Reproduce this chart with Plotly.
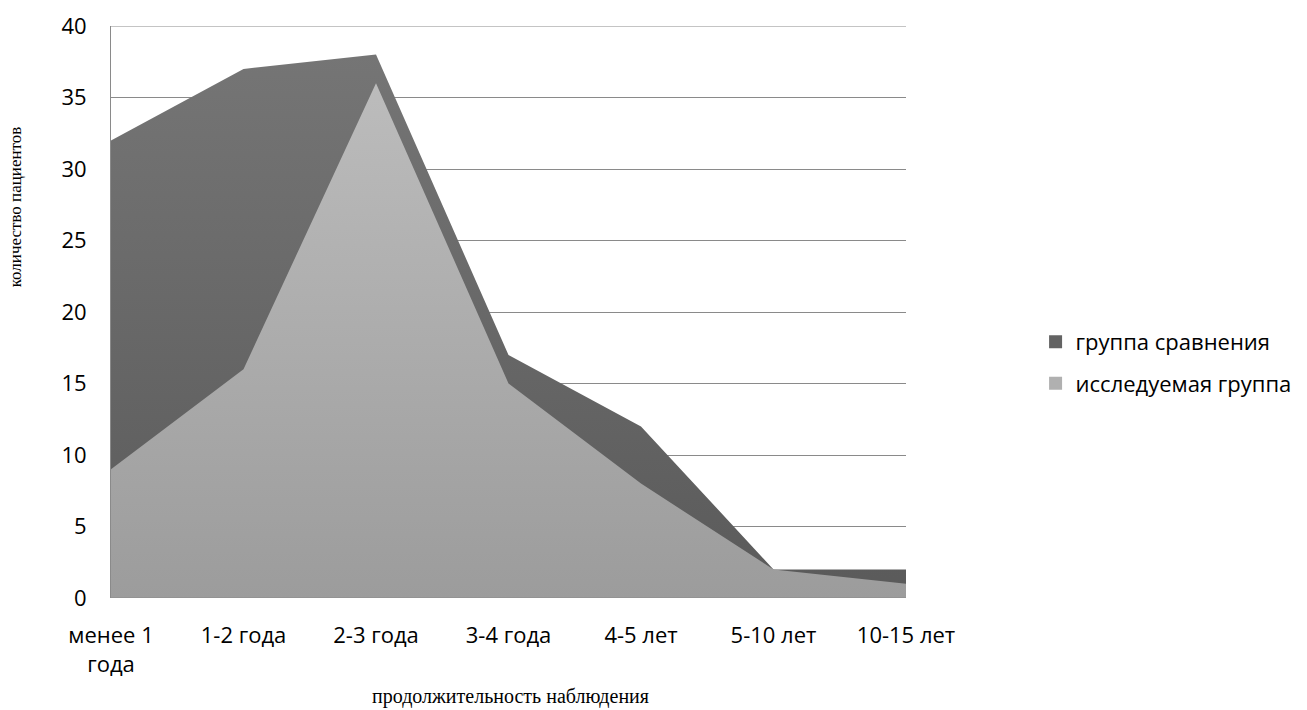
import plotly.graph_objects as go

categories = ["менее 1<br>года", "1-2 года", "2-3 года", "3-4 года", "4-5 лет", "5-10 лет", "10-15 лет"]
comparison_group = [32, 37, 38, 17, 12, 2, 2]
study_group = [9, 16, 36, 15, 8, 2, 1]
series_names = ["группа сравнения", "исследуемая группа"]
y_ticks = [0, 5, 10, 15, 20, 25, 30, 35, 40]

x_idx = list(range(len(categories)))

fig = go.Figure()

fig.add_trace(go.Scatter(
    x=x_idx, y=comparison_group, mode="lines", fill="tozeroy",
    line=dict(width=0, color="rgba(0,0,0,0)"),
    fillgradient=dict(type="vertical", start=0, stop=max(comparison_group),
                      colorscale=[[0, "#5a5a5a"], [1, "#757575"]]),
    showlegend=False, hoverinfo="skip", name=series_names[0],
))
fig.add_trace(go.Scatter(
    x=x_idx, y=study_group, mode="lines", fill="tozeroy",
    line=dict(width=0, color="rgba(0,0,0,0)"),
    fillgradient=dict(type="vertical", start=0, stop=max(study_group),
                      colorscale=[[0, "#9c9c9c"], [1, "#bcbcbc"]]),
    showlegend=False, hoverinfo="skip", name=series_names[1],
))

# legend-only entries with square symbols
for i, (name, col) in enumerate(zip(series_names, ["#636363", "#b0b0b0"])):
    fig.add_trace(go.Scatter(
        x=[None], y=[None], mode="markers", name=name, legendgroup=f"g{i}",
        marker=dict(symbol="square", size=13, color=col),
    ))

fig.update_layout(
    width=1307, height=710,
    margin=dict(l=111, r=401, t=26, b=112, autoexpand=False),
    paper_bgcolor="white", plot_bgcolor="white",
    font=dict(family="Open Sans", size=22, color="#000000"),
    xaxis=dict(
        range=[0, len(categories) - 1],
        tickmode="array", tickvals=x_idx, ticktext=categories,
        showgrid=False, zeroline=False, showline=False,
        ticks="", ticklabelstandoff=22,
        tickfont=dict(family="Open Sans", size=22, color="#000"),
    ),
    yaxis=dict(
        range=[0, 40], tickmode="array", tickvals=y_ticks,
        showgrid=True, gridcolor="#8a8a8a", gridwidth=1,
        zeroline=False, showline=True, linecolor="#8a8a8a", linewidth=1,
        ticks="", ticklabelstandoff=19,
        tickfont=dict(family="Open Sans", size=22, color="#000"),
    ),
    legend=dict(
        x=1.163, y=0.411, xanchor="left", yanchor="middle",
        font=dict(family="Open Sans", size=22, color="#000"),
        tracegroupgap=10, itemwidth=30,
    ),
    annotations=[
        dict(text="количество пациентов", xref="paper", yref="paper",
             x=-0.12, y=0.684, textangle=-90, showarrow=False,
             xanchor="center", yanchor="middle",
             font=dict(family="Liberation Serif", size=17, color="#000")),
        dict(text="продолжительность наблюдения", xref="paper", yref="paper",
             x=0.502, y=-0.173, showarrow=False,
             xanchor="center", yanchor="middle",
             font=dict(family="Liberation Serif", size=20, color="#000")),
    ],
)

# baseline and top border lines of the value axis range
for yv in (y_ticks[0], y_ticks[-1]):
    fig.add_shape(type="line", xref="paper", yref="y", x0=0, x1=1, y0=yv, y1=yv,
                  line=dict(color="#8a8a8a", width=1))

fig.write_html("out.html", config={"displayModeBar": False},
               post_script="document.body.style.margin='0';")
